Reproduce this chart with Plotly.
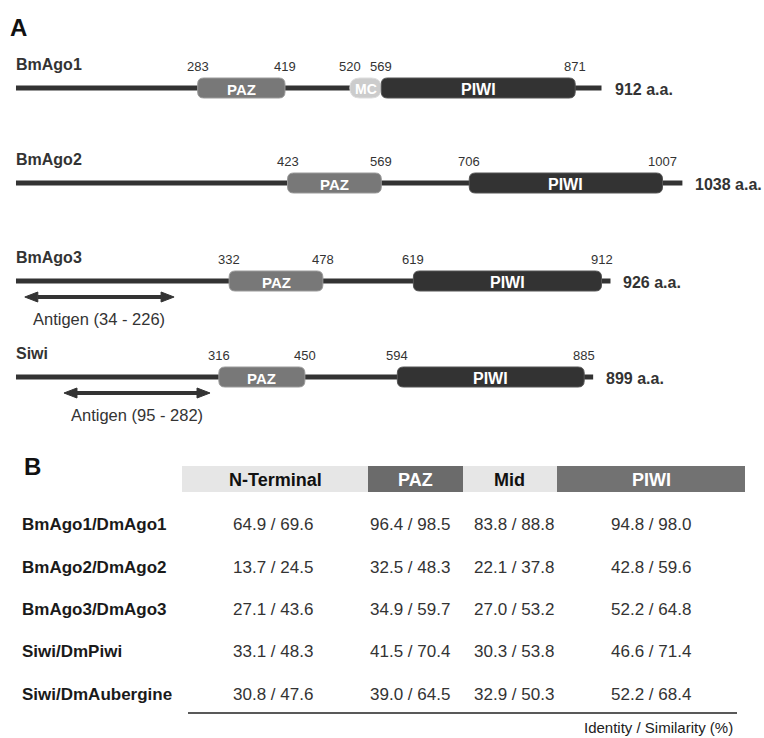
import plotly.graph_objects as go

# ---------------- data ----------------
proteins = ["BmAgo1", "BmAgo2", "BmAgo3", "Siwi"]
lengths = [912, 1038, 926, 899]
paz_start = [283, 423, 332, 316]
paz_end = [419, 569, 478, 450]
mc_start = [520, None, None, None]
mc_end = [569, None, None, None]
piwi_start = [569, 706, 619, 594]
piwi_end = [871, 1007, 912, 885]
antigen_start = [None, None, 34, 95]
antigen_end = [None, None, 226, 282]

pairs = ["BmAgo1/DmAgo1", "BmAgo2/DmAgo2", "BmAgo3/DmAgo3", "Siwi/DmPiwi", "Siwi/DmAubergine"]
regions = ["N-Terminal", "PAZ", "Mid", "PIWI"]
nterm_vals = ["64.9 / 69.6", "13.7 / 24.5", "27.1 / 43.6", "33.1 / 48.3", "30.8 / 47.6"]
paz_vals = ["96.4 / 98.5", "32.5 / 48.3", "34.9 / 59.7", "41.5 / 70.4", "39.0 / 64.5"]
mid_vals = ["83.8 / 88.8", "22.1 / 37.8", "27.0 / 53.2", "30.3 / 53.8", "32.9 / 50.3"]
piwi_vals = ["94.8 / 98.0", "42.8 / 59.6", "52.2 / 64.8", "46.6 / 71.4", "52.2 / 68.4"]

# ---------------- layout constants ----------------
W, H = 764, 738
XMIN, XMAX = -24.9, 1165.1
PX = W / (XMAX - XMIN)  # pixels per amino acid
FONT = "Arial, Liberation Sans, sans-serif"

fig = go.Figure()
fig.add_trace(go.Scatter(x=[XMIN], y=[0], mode="markers", marker=dict(opacity=0), showlegend=False, hoverinfo="skip"))

shapes = []
ann = []

def rounded(x0, x1, yc, h, r_px, fill, edge):
    rx = r_px / PX
    y0, y1 = yc - h / 2, yc + h / 2
    ry = min(r_px, h / 2)
    p = (f"M {x0+rx},{y0} L {x1-rx},{y0} Q {x1},{y0} {x1},{y0+ry} L {x1},{y1-ry} "
         f"Q {x1},{y1} {x1-rx},{y1} L {x0+rx},{y1} Q {x0},{y1} {x0},{y1-ry} "
         f"L {x0},{y0+ry} Q {x0},{y0} {x0+rx},{y0} Z")
    return dict(type="path", path=p, xref="x", yref="y", fillcolor=fill,
                line=dict(color=edge, width=1))

def num_label(x, y):
    ann.append(dict(x=x, y=y, xref="x", yref="y", text=str(x), showarrow=False,
                    font=dict(family=FONT, size=13, color="#333333"),
                    xanchor="center", yanchor="middle"))

line_y = [88, 183, 281, 377]

ann.append(dict(x=8 / W, y=27, xref="paper", yref="y", text="<b>A</b>", showarrow=False,
                font=dict(family=FONT, size=24, color="#111111"), xanchor="left", yanchor="middle"))

for i, name in enumerate(proteins):
    ly = line_y[i]
    # backbone line
    shapes.append(dict(type="line", xref="x", yref="y", x0=0, x1=lengths[i], y0=ly, y1=ly,
                       line=dict(color="#333333", width=5)))
    # PAZ
    shapes.append(rounded(paz_start[i], paz_end[i], ly, 20, 6, "#787878", "#9a9a9a"))
    ann.append(dict(x=(paz_start[i] + paz_end[i]) / 2, y=ly + 1, xref="x", yref="y", text="<b>PAZ</b>",
                    showarrow=False, font=dict(family=FONT, size=15, color="white"),
                    xanchor="center", yanchor="middle"))
    # MC
    if mc_start[i] is not None:
        shapes.append(rounded(mc_start[i], mc_end[i], ly, 20, 10, "#cccccc", "#dddddd"))
        ann.append(dict(x=(mc_start[i] + mc_end[i]) / 2, y=ly + 1, xref="x", yref="y", text="<b>MC</b>",
                        showarrow=False, font=dict(family=FONT, size=14, color="white"),
                        xanchor="center", yanchor="middle"))
    # PIWI
    shapes.append(rounded(piwi_start[i], piwi_end[i], ly, 20, 6, "#333333", "#555555"))
    ann.append(dict(x=(piwi_start[i] + piwi_end[i]) / 2, y=ly + 1, xref="x", yref="y", text="<b>PIWI</b>",
                    showarrow=False, font=dict(family=FONT, size=16, color="white"),
                    xanchor="center", yanchor="middle"))
    # numbers
    nums = [paz_start[i], paz_end[i]]
    if mc_start[i] is not None:
        nums += [mc_start[i]]
    nums += [piwi_start[i], piwi_end[i]]
    for n in nums:
        num_label(n, ly - 22)
    # name
    ann.append(dict(x=14 / W, y=ly - 24, xref="paper", yref="y", text=f"<b>{name}</b>", showarrow=False,
                    font=dict(family=FONT, size=16, color="#333333"), xanchor="left", yanchor="middle"))
    # length
    ann.append(dict(x=lengths[i] + 12 / PX, y=ly + 1, xref="x", yref="y", text=f"<b>{lengths[i]} a.a.</b>",
                    showarrow=False, font=dict(family=FONT, size=16, color="#333333"),
                    xanchor="left", yanchor="middle", borderpad=0))
    # antigen
    if antigen_start[i] is not None:
        ay = ly + 16
        a0, a1 = antigen_start[i], antigen_end[i]
        hl = 13 / PX
        shapes.append(dict(type="line", xref="x", yref="y", x0=a0, x1=a1, y0=ay, y1=ay,
                           line=dict(color="#333333", width=4)))
        shapes.append(dict(type="path", xref="x", yref="y",
                           path=f"M {a0-hl},{ay} L {a0},{ay-5} L {a0},{ay+5} Z",
                           fillcolor="#333333", line=dict(color="#333333", width=1)))
        shapes.append(dict(type="path", xref="x", yref="y",
                           path=f"M {a1+hl},{ay} L {a1},{ay-5} L {a1},{ay+5} Z",
                           fillcolor="#333333", line=dict(color="#333333", width=1)))
        ann.append(dict(x=(a0 + a1) / 2, y=ly + 38, xref="x", yref="y",
                        text=f"Antigen ({a0} - {a1})", showarrow=False,
                        font=dict(family=FONT, size=16.5, color="#333333"),
                        xanchor="center", yanchor="middle"))

# ---------------- panel B ----------------
ann.append(dict(x=22 / W, y=466, xref="paper", yref="y", text="<b>B</b>", showarrow=False,
                font=dict(family=FONT, size=24, color="#111111"), xanchor="left", yanchor="middle"))

edges = [182, 368, 463, 557, 745]
head_fill = ["#e6e6e6", "#6b6b6b", "#e6e6e6", "#727272"]
head_color = ["#111111", "white", "#111111", "white"]
for j, reg in enumerate(regions):
    shapes.append(dict(type="rect", xref="paper", yref="y", x0=edges[j] / W, x1=edges[j + 1] / W,
                       y0=466, y1=492, fillcolor=head_fill[j], line=dict(width=0)))
    ann.append(dict(x=(edges[j] + edges[j + 1]) / 2 / W, y=480, xref="paper", yref="y",
                    text=f"<b>{reg}</b>", showarrow=False,
                    font=dict(family=FONT, size=18, color=head_color[j]),
                    xanchor="center", yanchor="middle"))

row_y = [524, 567, 609, 651, 694]
col_x = [273, 410, 514, 651]
cols = [nterm_vals, paz_vals, mid_vals, piwi_vals]
for r, pair in enumerate(pairs):
    ann.append(dict(x=20 / W, y=row_y[r], xref="paper", yref="y", text=f"<b>{pair}</b>", showarrow=False,
                    font=dict(family=FONT, size=17, color="#1a1a1a"), xanchor="left", yanchor="middle"))
    for c, vals in enumerate(cols):
        ann.append(dict(x=col_x[c] / W, y=row_y[r], xref="paper", yref="y", text=vals[r], showarrow=False,
                        font=dict(family=FONT, size=17, color="#333333"),
                        xanchor="center", yanchor="middle"))

shapes.append(dict(type="line", xref="paper", yref="y", x0=188 / W, x1=737 / W, y0=713, y1=713,
                   line=dict(color="#222222", width=1.5)))
ann.append(dict(x=734 / W, y=727, xref="paper", yref="y", text="Identity / Similarity (%)", showarrow=False,
                font=dict(family=FONT, size=15, color="#222222"), xanchor="right", yanchor="middle",
                borderpad=0))

fig.update_layout(
    width=W, height=H, margin=dict(l=0, r=0, t=0, b=0, pad=0),
    paper_bgcolor="white", plot_bgcolor="white",
    xaxis=dict(range=[XMIN, XMAX], visible=False, fixedrange=True),
    yaxis=dict(range=[H, 0], visible=False, fixedrange=True),
    shapes=shapes, annotations=ann, showlegend=False,
)
fig.write_html("out.html", config={"displayModeBar": False},
               post_script="document.body.style.margin='0';document.body.style.overflow='hidden';")
